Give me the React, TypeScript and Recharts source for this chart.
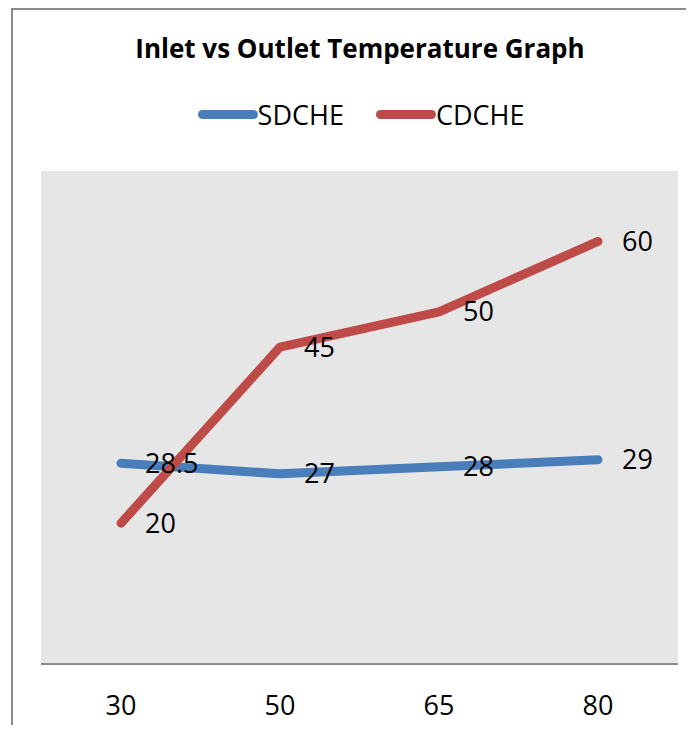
import * as React from "react";
import { LineChart, Line, XAxis, YAxis, CartesianGrid, LabelList } from "recharts";

const temps = ["30", "50", "65", "80"];
const sdche = [28.5, 27, 28, 29];
const cdche = [20, 45, 50, 60];

const data = temps.map((t, i) => ({ temp: t, SDCHE: sdche[i], CDCHE: cdche[i] }));

const FONT = "'Open Sans', 'Liberation Sans', sans-serif";
const BLUE = "#4A7EBB";
const RED = "#BE4B48";

const legendItems = [
  { name: "SDCHE", color: BLUE },
  { name: "CDCHE", color: RED },
];

function ChartLegend() {
  return (
    <div
      style={{
        position: "absolute",
        top: 96,
        left: 0,
        width: 722,
        display: "flex",
        justifyContent: "center",
        fontFamily: FONT,
        fontSize: 27,
      }}
    >
      {legendItems.map((it) => (
        <div key={it.name} style={{ display: "flex", alignItems: "center", margin: "0 16px" }}>
          <span
            style={{
              display: "inline-block",
              width: 60,
              height: 9,
              borderRadius: 5,
              background: it.color,
            }}
          />
          <span style={{ color: "#000" }}>{it.name}</span>
        </div>
      ))}
    </div>
  );
}

export default function App() {
  return (
    <div style={{ position: "relative", width: 694, height: 733, margin: -8, overflow: "hidden", background: "#fff" }}>
      <div
        style={{
          position: "absolute",
          left: 11,
          top: 8,
          width: 720,
          height: 760,
          border: "2px solid #8a8a8a",
          boxSizing: "border-box",
        }}
      />
      <div
        style={{
          position: "absolute",
          top: 30,
          left: 13,
          width: 694,
          textAlign: "center",
          fontFamily: FONT,
          fontWeight: 700,
          fontSize: 26,
          color: "#000",
        }}
      >
        Inlet vs Outlet Temperature Graph
      </div>
      <ChartLegend />
      <div style={{ position: "absolute", top: 0, left: 0 }}>
        <LineChart width={694} height={733} data={data} margin={{ top: 171, right: 16, bottom: 0, left: 41 }}>
          <CartesianGrid fill="#e6e6e6" horizontal={false} vertical={false} />
          <XAxis
            dataKey="temp"
            height={69}
            padding={{ left: 80, right: 80 }}
            axisLine={{ stroke: "#8a8a8a", strokeWidth: 2 }}
            tickLine={false}
            tickMargin={26}
            tick={{ fill: "#000", fontSize: 27, fontFamily: FONT }}
          />
          <YAxis hide domain={[0, 70]} />
          <Line
            dataKey="SDCHE"
            stroke={BLUE}
            strokeWidth={9}
            strokeLinecap="round"
            strokeLinejoin="round"
            dot={false}
            activeDot={false}
            isAnimationActive={false}
          >
            <LabelList dataKey="SDCHE" position="right" offset={24} fill="#000" fontSize={27} fontFamily={FONT} />
          </Line>
          <Line
            dataKey="CDCHE"
            stroke={RED}
            strokeWidth={9}
            strokeLinecap="round"
            strokeLinejoin="round"
            dot={false}
            activeDot={false}
            isAnimationActive={false}
          >
            <LabelList dataKey="CDCHE" position="right" offset={24} fill="#000" fontSize={27} fontFamily={FONT} />
          </Line>
        </LineChart>
      </div>
    </div>
  );
}
